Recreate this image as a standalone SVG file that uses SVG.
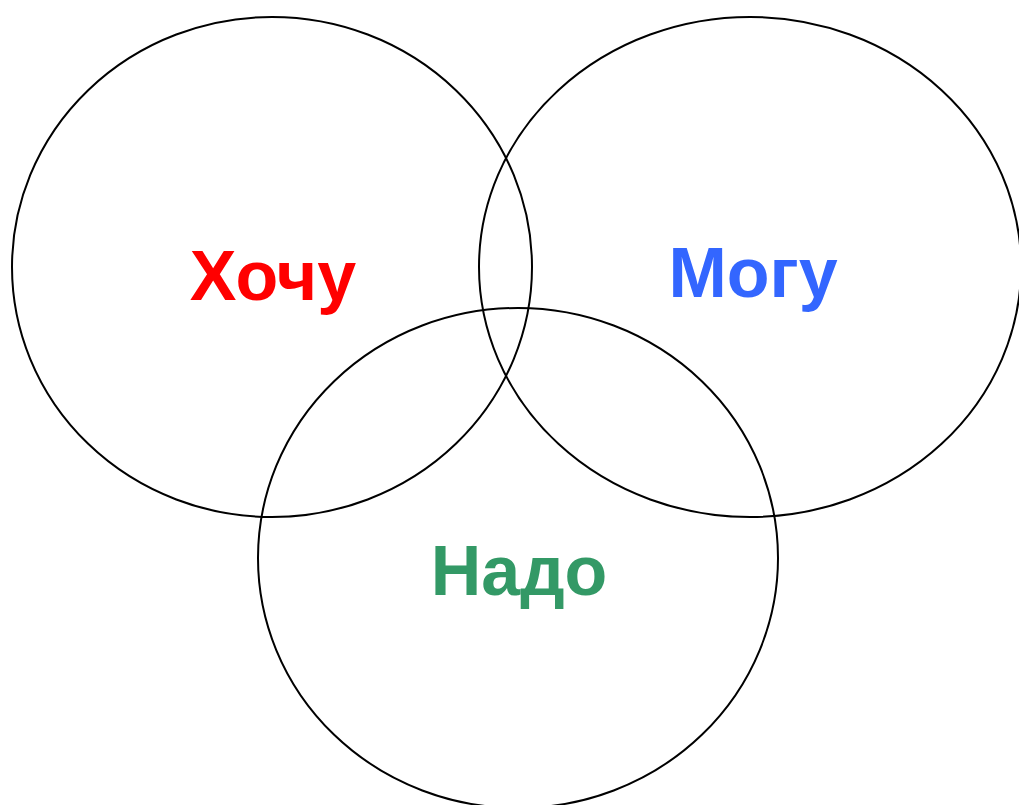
<svg xmlns="http://www.w3.org/2000/svg" width="1019" height="805" viewBox="0 0 1019 805">
<style>
.c{fill:none;stroke:#000;stroke-width:2}
.t{font-family:"Liberation Sans",Arial,sans-serif;font-weight:bold;font-size:70px;text-anchor:middle}
</style>
<rect width="1019" height="805" fill="#fff"/>
<g id="want"><ellipse class="c" cx="272" cy="267" rx="260" ry="250"/><text class="t" x="273" y="300" fill="#FF0000">Хочу</text></g>
<g id="can"><ellipse class="c" cx="750" cy="267" rx="271" ry="250"/><text class="t" x="753" y="297" fill="#3366FF">Могу</text></g>
<g id="must"><ellipse class="c" cx="518" cy="558" rx="260" ry="250"/><text class="t" x="519" y="595" fill="#339966">Надо</text></g>
</svg>
